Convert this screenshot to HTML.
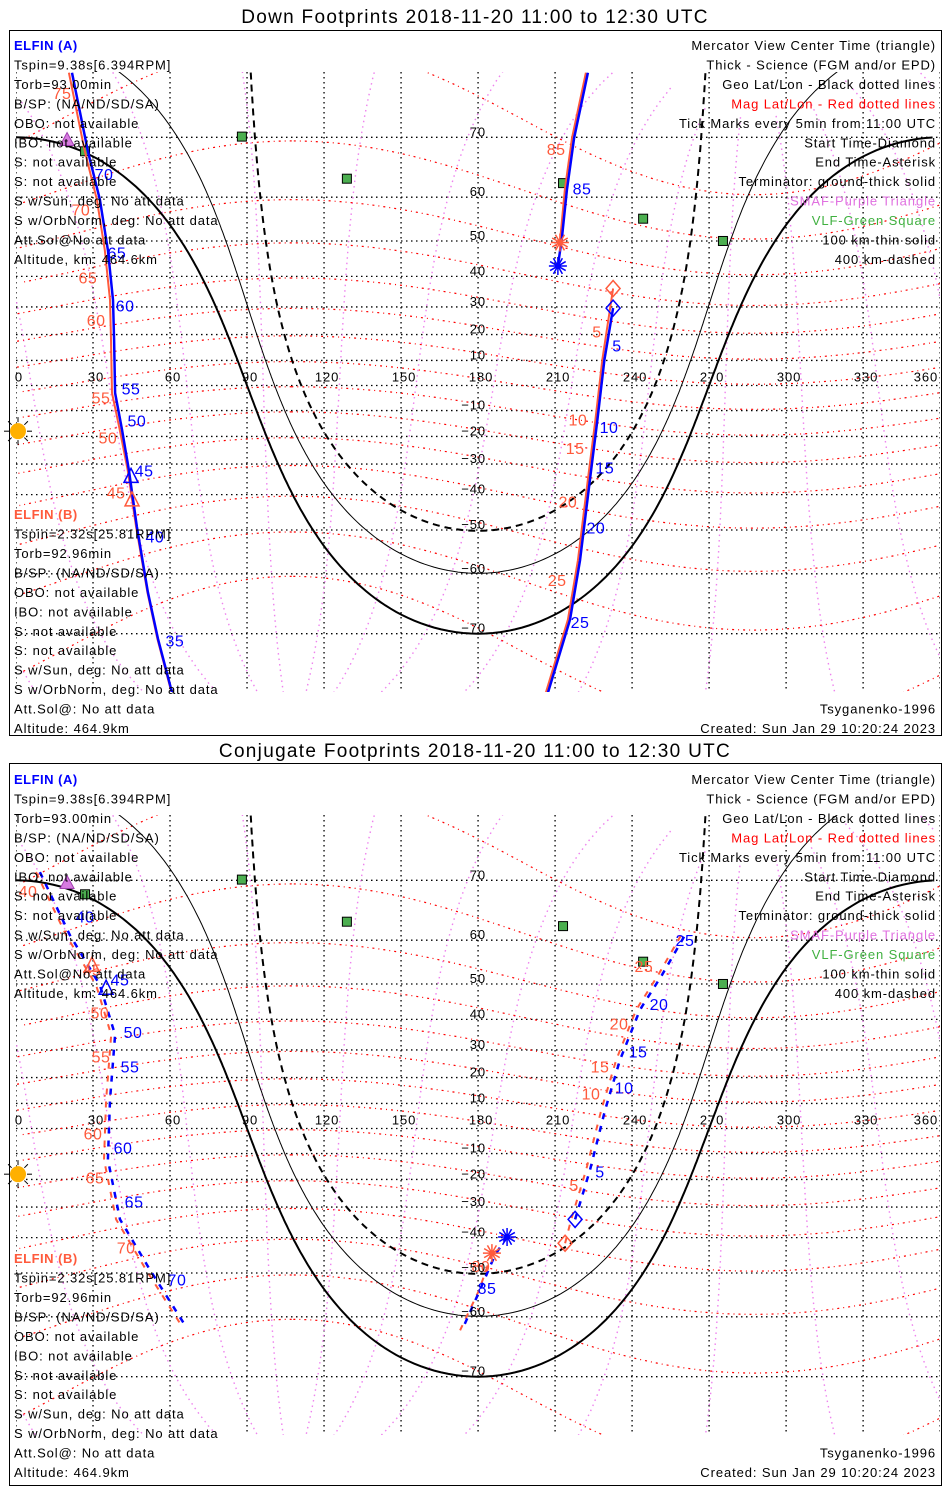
<!DOCTYPE html>
<html><head><meta charset="utf-8"><style>
html,body{margin:0;padding:0;background:#fff;overflow:hidden;width:950px;height:1500px;}
svg{display:block;font-family:"Liberation Sans",sans-serif;}
</style></head><body>
<svg id="chart" width="950" height="1500" viewBox="0 0 950 1500" xmlns="http://www.w3.org/2000/svg"></svg>
<script>
// ---- data ----
const lonTicks=[0,30,60,90,120,150,180,210,240,270,300,330,360];
const latTicks=[-70,-60,-50,-40,-30,-20,-10,10,20,30,40,50,60,70];
const magLats=[-70,-60,-50,-40,-30,-20,-10,0,10,20,30,40,50,60,70];
const magAz=[11.2,41.2,71.2,101.2,131.2,161.2,191.2,221.2,251.2,281.2,311.2,341.2];
const magPole=[80.5,287.4];
const antiSolar=[20,180];
const termRadii=[90,79.9,70.2];
const stationLon=[88.0,128.9,213.1,244.3,275.4,26.9];
const stationLat=[70.1,63.5,62.7,55.4,50.0,68.0];
const smafLon=[17.1,19.9];
const smafLat=[78.0,69.7];
const sunLon=[0], sunLat=[-18];

// panel 1 tracks
const p1ALeftLon=[21.8,28.0,32.7,35.8,37.8,38.2,38.6,41.3,44.0,47.1,51.4,55.3,60.8];
const p1ALeftLat=[77.2,68.0,59.5,47.6,32.4,17.9,-3.0,-17.4,-32.1,-49.2,-63.5,-70.7,-76.7];
const p1BLeftLon=[20.6,26.8,31.5,34.6,36.6,37.0,37.4,40.4,43.5,46.8,51.2,55.1,60.6];
const p1BLeftLat=[77.2,68.0,59.5,47.6,32.4,17.9,-3.0,-17.4,-32.1,-49.2,-63.5,-70.7,-76.7];
const p1AUpLon=[222.8,217.4,214.6,212.7,211.1];
const p1AUpLat=[77.2,69.9,61.4,51.0,43.1];
const p1BUpLon=[222.0,216.6,213.8,211.9];
const p1BUpLat=[77.2,69.9,61.4,49.6];
const p1ALowLon=[232.6,229.2,226.5,223.6,219.7,215.8,207.2];
const p1ALowLat=[29.6,10.2,-13.6,-35.1,-57.2,-68.0,-76.7];
const p1BLowLon=[232.6,228.4,225.7,222.8,218.9,215.0,206.4];
const p1BLowLat=[36.2,10.2,-13.6,-35.1,-57.2,-68.0,-76.7];
const p1TriLon=[44.8,45.2], p1TriLat=[-34.2,-41.6];
const p1ALabT=['70','65','60','55','50','45','40','35','85','5','10','15','20','25'];
const p1ALabLon=[34.3,39.3,42.5,44.8,47.1,49.9,54.1,61.9,220.5,234.1,231.0,229.4,225.9,219.7];
const p1ALabLat=[64.2,46.8,30.3,-1.4,-14.0,-32.4,-51.8,-71.0,61.6,15.6,-16.6,-31.4,-49.5,-68.4];
const p1BLabT=['75','70','65','60','55','50','45','85','5','10','15','20','25'];
const p1BLabLon=[17.9,25.3,28.0,31.2,33.1,35.8,39.0,210.4,226.3,218.9,217.8,215.0,210.8];
const p1BLabLat=[75.2,57.3,39.5,25.2,-5.0,-20.6,-39.5,68.3,20.9,-13.6,-24.5,-42.3,-61.3];

// panel 2 tracks
const p2ALeftLon=[9.3,21.0,32.7,38.6,36.6,35.8,40.5,52.2,65.8];
const p2ALeftLat=[71.1,61.0,49.7,35.1,11.3,-12.4,-34.2,-49.2,-61.6];
const p2BLeftLon=[7.8,19.5,31.2,37.1,35.1,34.3,39.0,50.7,64.3];
const p2BLeftLat=[71.1,61.0,49.7,35.1,11.3,-12.4,-34.2,-49.2,-61.6];
const p2AMainLon=[217.8,223.6,229.5,235.3,243.1,251.7,260.6];
const p2AMainLat=[-34.2,-16.4,7.4,26.5,42.9,52.3,61.0];
const p2BMainLon=[213.9,216.3,222.1,228.0,233.8,241.6,250.2,259.1];
const p2BMainLat=[-41.7,-34.2,-16.4,7.4,26.5,42.9,52.3,61.0];
const p2ATailLon=[191.3,186.6,180.8,173.7];
const p2ATailLat=[-39.8,-45.1,-54.1,-62.6];
const p2BTailLon=[185.4,180.5,173.0];
const p2BTailLat=[-44.6,-54.1,-62.6];
const p2TriLon=[35.1,29.6], p2TriLat=[48.9,54.6];
const p2ALabT=['40','45','50','55','60','65','70','5','10','15','20','25','85'];
const p2ALabLon=[26.9,40.5,45.6,44.4,41.7,46.0,62.7,227.5,236.9,242.3,250.5,260.6,183.5];
const p2ALabLat=[64.3,51.0,35.9,23.9,-7.8,-28.2,-51.8,-17.2,16.0,29.2,44.4,59.9,-53.8];
const p2BLabT=['40','45','50','55','60','65','70','5','10','15','20','25','80'];
const p2BLabLon=[4.7,29.6,32.7,33.1,30.0,30.8,42.9,217.4,224.0,227.5,234.9,244.6,181.1];
const p2BLabLat=[68.4,53.5,42.0,27.5,-2.2,-19.4,-43.1,-22.2,13.6,23.9,38.5,54.3,-48.3];

const leftA=['Tspin=9.38s[6.394RPM]','Torb=93.00min','B/SP: (NA/ND/SD/SA)','OBO: not available','IBO: not available','S: not available','S: not available','S w/Sun, deg: No att data','S w/OrbNorm, deg: No att data','Att.Sol@No att data','Altitude, km: 464.6km'];
const leftB=['Tspin=2.32s[25.81RPM]','Torb=92.96min','B/SP: (NA/ND/SD/SA)','OBO: not available','IBO: not available','S: not available','S: not available','S w/Sun, deg: No att data','S w/OrbNorm, deg: No att data','Att.Sol@: No att data','Altitude: 464.9km'];
const rightLeg=['Mercator View Center Time (triangle)','Thick - Science (FGM and/or EPD)','Geo Lat/Lon - Black dotted lines','Mag Lat/Lon - Red dotted lines','Tick Marks every 5min from 11:00 UTC','Start Time-Diamond','End Time-Asterisk','Terminator: ground-thick solid','SMAF-Purple Triangle','VLF-Green Square','100 km-thin solid','400 km-dashed'];
const rightCol=['#000','#000','#000','#f00','#000','#000','#000','#000','#e070e0','#40b040','#000','#000'];

// ---- rendering ----
const NS='http://www.w3.org/2000/svg';
const svg=document.getElementById('chart');
const X0=16,SX=2.567,K=143,D=Math.PI/180;
const BLUE='#0000ff',RED='#ff5a3c';
function mk(tag,attrs,parent){const e=document.createElementNS(NS,tag);for(const k in attrs)e.setAttribute(k,attrs[k]);(parent||svg).appendChild(e);return e;}
function xS(lon){return X0+lon*SX;}
function yS(lat,y0){const L=Math.max(-86,Math.min(86,lat))*D;return y0-K*Math.log(Math.tan(Math.PI/4+L/2));}
function dest(lat1,lon1,d,az){const a=lat1*D,b=lon1*D,dd=d*D,z=az*D;
 const la=Math.asin(Math.sin(a)*Math.cos(dd)+Math.cos(a)*Math.sin(dd)*Math.cos(z));
 const lo=b+Math.atan2(Math.sin(z)*Math.sin(dd)*Math.cos(a),Math.cos(dd)-Math.sin(a)*Math.sin(la));
 let l=((lo/D)%360+360)%360;return [l,la/D];}
function pathFromLL(pts,y0){let s='',prev=null;
 for(const p of pts){const cmd=(prev===null||Math.abs(p[0]-prev)>180)?'M':'L';
  s+=cmd+xS(p[0]).toFixed(1)+','+yS(p[1],y0).toFixed(1);prev=p[0];}return s;}
function txt(str,x,y,opt,parent){const t=mk('text',Object.assign({x:x,y:y,'font-size':13,fill:'#000','letter-spacing':0.9},opt||{}),parent);t.textContent=str;return t;}

function panel(cfg){
 const g=mk('g',{});
 
 
 const y0=cfg.y0;
 const t=txt(cfg.title,475,cfg.titleY,{'font-size':19,'text-anchor':'middle','letter-spacing':1.3},g);
 
 
 const box=mk('rect',{x:9.5,y:cfg.boxTop+0.5,width:932,height:cfg.boxH,fill:'none',stroke:'#000','stroke-width':1},g);
 
 
 const cid='clip'+cfg.id;
 const cp=mk('clipPath',{id:cid},g);
 mk('rect',{x:X0,y:cfg.mapTop,width:924,height:cfg.mapBot-cfg.mapTop},cp);
 const m=mk('g',{'clip-path':'url(#'+cid+')'},g);
 
 
 for(const lo of lonTicks){const l=mk('line',{x1:xS(lo),x2:xS(lo),y1:cfg.mapTop,y2:cfg.mapBot,stroke:'#000','stroke-width':1.3,'stroke-dasharray':'1.5,3.5'},m);
  
  }
 for(const la of latTicks.concat([0])){const l=mk('line',{x1:X0,x2:940,y1:yS(la,y0),y2:yS(la,y0),stroke:'#000','stroke-width':1.3,'stroke-dasharray':'1.5,3.5'},m);
  
  }
 for(const az of magAz){const pts=[];for(let d=8;d<=180;d+=2)pts.push(dest(magPole[0],magPole[1],d,az));
  const p=mk('path',{d:pathFromLL(pts,y0),fill:'none',stroke:'#ee82ee','stroke-width':1.4,'stroke-dasharray':'1.5,4'},m);
  
  }
 for(const ml of magLats){const pts=[];for(let az=0;az<=360;az+=2)pts.push(dest(magPole[0],magPole[1],90-ml,az));
  const p=mk('path',{d:pathFromLL(pts,y0),fill:'none',stroke:'#ff0000','stroke-width':1.2,'stroke-dasharray':'2,4,1,4'},m);
  
  }
 const tStyle=[{w:2,da:''},{w:1,da:''},{w:2,da:'7,5'}];
 const tNames=['terminator-ground','terminator-100km','terminator-400km'];
 termRadii.forEach((r,i)=>{const pts=[];for(let az=0;az<=360;az+=1)pts.push(dest(antiSolar[0],antiSolar[1],r,az));
  const o={d:pathFromLL(pts,y0),fill:'none',stroke:'#000','stroke-width':tStyle[i].w};if(tStyle[i].da)o['stroke-dasharray']=tStyle[i].da;
  const p=mk('path',o,m);
  
  });
 stationLon.forEach((lo,i)=>{const r=mk('rect',{x:xS(lo)-4.5,y:yS(stationLat[i],y0)-4.5,width:9,height:9,fill:'#4caf50',stroke:'#000','stroke-width':1},m);
  
  });
 smafLon.forEach((lo,i)=>{const x=xS(lo),y=yS(smafLat[i],y0);const p=mk('polygon',{points:`${x},${y-7} ${x-7},${y+6} ${x+7},${y+6}`,fill:'#d77be0',stroke:'#a040b0','stroke-width':1},m);
  
  });
 const dash=cfg.dashed?'6,7':'';
 function track(lons,lats,col,w,name){const pts=lons.map((l,i)=>[l,lats[i]]);
  const o={d:pathFromLL(pts,y0),fill:'none',stroke:col,'stroke-width':w};if(dash)o['stroke-dasharray']=dash;
  const p=mk('path',o,m);
  
  }
 cfg.bTracks.forEach(tr=>track(tr[0],tr[1],RED,2,'elfin-b-track'));
 cfg.aTracks.forEach(tr=>track(tr[0],tr[1],BLUE,2.5,'elfin-a-track'));
 function tri(lo,la,col){const x=xS(lo),y=yS(la,y0);const p=mk('polygon',{points:`${x},${y-8} ${x-7},${y+6} ${x+7},${y+6}`,fill:'none',stroke:col,'stroke-width':1.5},m);
  
  }
 function dia(lo,la,col){const x=xS(lo),y=yS(la,y0);const p=mk('polygon',{points:`${x},${y-8} ${x+7},${y} ${x},${y+8} ${x-7},${y}`,fill:'none',stroke:col,'stroke-width':1.5},m);
  
  }
 function ast(lo,la,col){const x=xS(lo),y=yS(la,y0);let d='';for(let a=0;a<180;a+=30){const c=Math.cos(a*D)*9,s=Math.sin(a*D)*9;d+=`M${x-c},${y-s}L${x+c},${y+s}`;}
  const p=mk('path',{d:d,stroke:col,'stroke-width':1.5,fill:'none'},m);
  
  }
 tri(cfg.triLon[0],cfg.triLat[0],BLUE);tri(cfg.triLon[1],cfg.triLat[1],RED);
 cfg.dia.forEach(d=>dia(d[0],d[1],d[2]));
 cfg.ast.forEach(d=>ast(d[0],d[1],d[2]));
 function labs(T,Lo,La,col){T.forEach((s,i)=>{const l=txt(s,xS(Lo[i]),yS(La[i],y0)+5.5,{'font-size':16,fill:col,'text-anchor':'middle','letter-spacing':0.5},m);
  
  });}
 labs(cfg.bLab[0],cfg.bLab[1],cfg.bLab[2],RED);
 labs(cfg.aLab[0],cfg.aLab[1],cfg.aLab[2],BLUE);
 const sx=xS(sunLon[0])+2,sy=yS(sunLat[0],y0);
 const sg=mk('g',{},g);
 
 
 for(let a=0;a<360;a+=45){mk('line',{x1:sx+Math.cos(a*D)*9,y1:sy+Math.sin(a*D)*9,x2:sx+Math.cos(a*D)*14,y2:sy+Math.sin(a*D)*14,stroke:'#000','stroke-width':1},sg);}
 mk('circle',{cx:sx,cy:sy,r:8,fill:'#ffb000'},sg);
 lonTicks.forEach(lo=>{const l=txt(String(lo),Math.min(xS(lo)+3,926),y0-4,{'text-anchor':'middle'},g);
  
  });
 latTicks.forEach(la=>{const l=txt(String(la).replace('-','\u2212'),486,yS(la,y0)-1,{'text-anchor':'end'},g);
  
  });
 const ha=txt('ELFIN (A)',14,cfg.topText,{fill:BLUE,'font-weight':'bold','letter-spacing':0.5},g);
 
 
 leftA.forEach((s,i)=>{const l=txt(s,14,cfg.topText+19.45*(i+1),{},g);
  
  });
 rightLeg.forEach((s,i)=>{const l=txt(s,936,cfg.topText+19.45*i,{'text-anchor':'end',fill:rightCol[i]},g);
  
  });
 const hb=txt('ELFIN (B)',14,cfg.botText-19.45*11,{fill:RED,'font-weight':'bold','letter-spacing':0.5},g);
 
 
 leftB.forEach((s,i)=>{const l=txt(s,14,cfg.botText-19.45*(10-i),{},g);
  
  });
 const ts=txt('Tsyganenko-1996',936,cfg.botText-19.45,{'text-anchor':'end'},g);
 
 
 const cr=txt('Created: Sun Jan 29 10:20:24 2023',936,cfg.botText,{'text-anchor':'end'},g);
 
 
}

panel({id:1,name:'down-footprints-panel',title:'Down Footprints 2018-11-20 11:00 to 12:30 UTC',titleY:23,boxTop:30,boxH:705,y0:385.5,mapTop:72,mapBot:692,topText:50,botText:733,dashed:false,
 aTracks:[[p1ALeftLon,p1ALeftLat],[p1AUpLon,p1AUpLat],[p1ALowLon,p1ALowLat]],
 bTracks:[[p1BLeftLon,p1BLeftLat],[p1BUpLon,p1BUpLat],[p1BLowLon,p1BLowLat]],
 triLon:p1TriLon,triLat:p1TriLat,
 dia:[[p1ALowLon[0],p1ALowLat[0],BLUE],[p1BLowLon[0],p1BLowLat[0],RED]],
 ast:[[p1AUpLon[4],p1AUpLat[4],BLUE],[p1BUpLon[3],p1BUpLat[3],RED]],
 aLab:[p1ALabT,p1ALabLon,p1ALabLat],bLab:[p1BLabT,p1BLabLon,p1BLabLat]});
panel({id:2,name:'conjugate-footprints-panel',title:'Conjugate Footprints 2018-11-20 11:00 to 12:30 UTC',titleY:757,boxTop:763,boxH:722,y0:1128.5,mapTop:815,mapBot:1435,topText:784,botText:1477,dashed:true,
 aTracks:[[p2ALeftLon,p2ALeftLat],[p2AMainLon,p2AMainLat],[p2ATailLon,p2ATailLat]],
 bTracks:[[p2BLeftLon,p2BLeftLat],[p2BMainLon,p2BMainLat],[p2BTailLon,p2BTailLat]],
 triLon:p2TriLon,triLat:p2TriLat,
 dia:[[p2AMainLon[0],p2AMainLat[0],BLUE],[p2BMainLon[0],p2BMainLat[0],RED]],
 ast:[[p2ATailLon[0],p2ATailLat[0],BLUE],[p2BTailLon[0],p2BTailLat[0],RED]],
 aLab:[p2ALabT,p2ALabLon,p2ALabLat],bLab:[p2BLabT,p2BLabLon,p2BLabLat]});
</script>
</body></html>
